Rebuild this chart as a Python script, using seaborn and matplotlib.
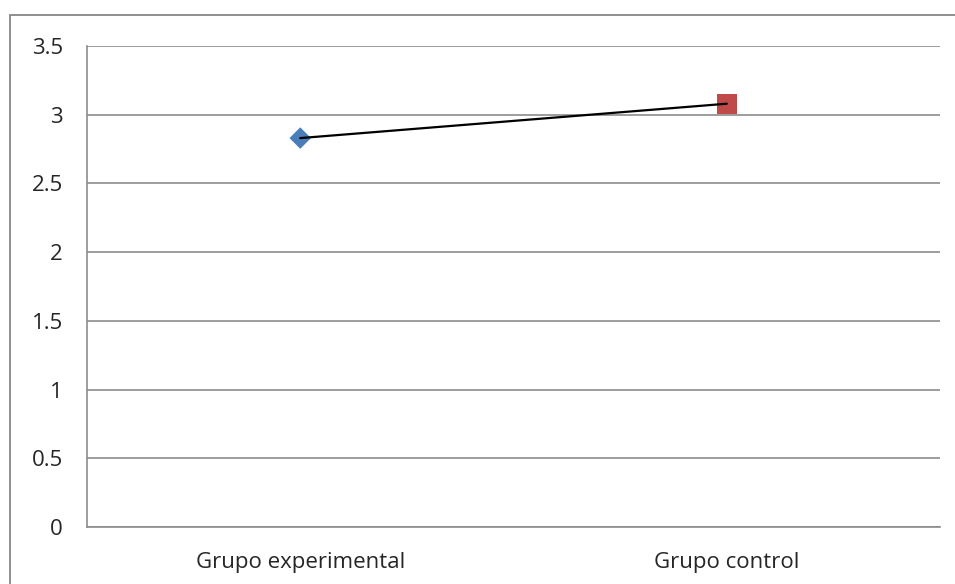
import matplotlib
matplotlib.use("Agg")
import matplotlib.pyplot as plt
import seaborn as sns
import pandas as pd
from matplotlib.patches import Rectangle

categories = ["Grupo experimental", "Grupo control"]
values = [2.83, 3.08]
colors = ["#4a7ebb", "#be4b48"]
markers = ["D", "s"]

y_ticks = [0, 0.5, 1, 1.5, 2, 2.5, 3, 3.5]
y_labels = ["0", "0.5", "1", "1.5", "2", "2.5", "3", "3.5"]

df = pd.DataFrame({"grupo": categories, "valor": values, "pos": [0.5, 1.5]})

sns.set_style("white")
plt.rcParams["font.family"] = ["Open Sans", "DejaVu Sans"]

fig = plt.figure(figsize=(9.55, 5.84), dpi=100)
ax = fig.add_axes([87 / 955, 1 - 527 / 584, (940 - 87) / 955, (527 - 46) / 584])

# outer chart frame
fig.patches.append(Rectangle((10 / 955, -0.05), 1.2, 1 - 15 / 584 + 0.05,
                             transform=fig.transFigure, fill=False,
                             edgecolor="#868686", linewidth=1.3))

ax.set_xlim(0, 2)
ax.set_ylim(0, 3.5)

for y in y_ticks:
    ax.axhline(y, color="#8c8c8c", linewidth=1.2, zorder=1)

sns.lineplot(data=df, x="pos", y="valor", color="black", linewidth=1.6,
             ax=ax, zorder=3, legend=False)
for i in range(len(categories)):
    sns.scatterplot(x=[df["pos"][i]], y=[df["valor"][i]], marker=markers[i],
                    color=colors[i], s=210 if markers[i] == "s" else 120,
                    edgecolor="none", ax=ax, zorder=2, legend=False)

ax.set_yticks(y_ticks)
ax.set_yticklabels(y_labels)
ax.set_xticks([0.5, 1.5])
ax.set_xticklabels(categories)
ax.set_xticks([0, 1, 2], minor=True)
ax.tick_params(axis="x", which="major", length=0, pad=18, labelsize=16)
ax.tick_params(axis="x", which="minor", length=5, color="#8c8c8c", width=1.2, direction="out")
ax.tick_params(axis="y", length=6.5, color="#8c8c8c", width=1.2, pad=11, labelsize=16)
ax.set_xlabel("")
ax.set_ylabel("")

for side in ["top", "right"]:
    ax.spines[side].set_visible(False)
ax.spines["left"].set_color("#8c8c8c")
ax.spines["bottom"].set_color("#8c8c8c")
ax.spines["left"].set_linewidth(1.2)
ax.spines["bottom"].set_linewidth(1.2)

fig.savefig("out.png", dpi=100)
